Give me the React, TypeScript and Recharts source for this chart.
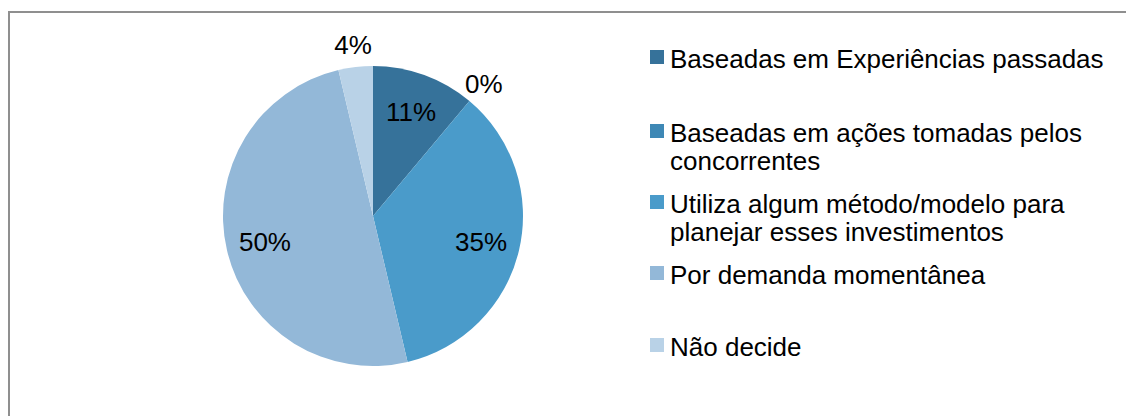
import React from "react";
import { PieChart, Pie, Cell, Legend } from "recharts";

const categories = [
  "Baseadas em Experiências passadas",
  "Baseadas em ações tomadas pelos concorrentes",
  "Utiliza algum método/modelo para planejar esses investimentos",
  "Por demanda momentânea",
  "Não decide",
];
const counts = [6, 0, 19, 27, 2];
const colors = ["#36729A", "#3E88B5", "#4A9BCA", "#93B8D8", "#B9D2E7"];

const data = categories.map((name, i) => ({ name, value: counts[i] }));

const FONT = '"Liberation Sans", Arial, sans-serif';
const RAD = Math.PI / 180;

// legend rows sit at uneven heights in the original
const legendTops = [45, 119, 190, 261, 333];

function renderLabel(props: any) {
  const { cx, cy, midAngle, outerRadius, percent } = props;
  const r = percent < 0.06 ? outerRadius * 1.15 : outerRadius * 0.74;
  const x = cx + r * Math.cos(-midAngle * RAD);
  const y = cy + r * Math.sin(-midAngle * RAD);
  return (
    <text
      x={x}
      y={y}
      fill="#000"
      fontSize={26}
      fontFamily={FONT}
      textAnchor="middle"
      dominantBaseline="central"
    >
      {`${Math.round(percent * 100)}%`}
    </text>
  );
}

function LegendContent() {
  return (
    <div style={{ position: "relative", width: 470, height: 416, fontFamily: FONT }}>
      {categories.map((name, i) => (
        <div
          key={name}
          style={{
            position: "absolute",
            top: legendTops[i],
            left: 0,
            display: "flex",
            alignItems: "flex-start",
          }}
        >
          <div
            style={{
              width: 14,
              height: 14,
              marginTop: 5,
              background: colors[i],
              flex: "none",
            }}
          />
          <div
            style={{
              marginLeft: 6,
              width: 450,
              fontSize: 26,
              lineHeight: "28px",
              color: "#000",
              textAlign: "left",
            }}
          >
            {name}
          </div>
        </div>
      ))}
    </div>
  );
}

export default function App() {
  return (
    <div
      style={{
        position: "absolute",
        left: 0,
        top: 0,
        width: 1126,
        height: 416,
        overflow: "hidden",
        background: "#fff",
      }}
    >
      <div
        style={{
          position: "absolute",
          left: 8,
          top: 11,
          width: 1200,
          height: 500,
          border: "2px solid #8f8f8f",
          boxSizing: "border-box",
        }}
      />
      <div style={{ position: "absolute", left: 0, top: 0 }}>
        <PieChart width={1126} height={416} margin={{ top: 0, right: 0, bottom: 0, left: 0 }}>
          <Pie
            data={data}
            dataKey="value"
            nameKey="name"
            cx={373}
            cy={216}
            outerRadius={150}
            startAngle={90}
            endAngle={-270}
            stroke="none"
            label={renderLabel}
            labelLine={false}
            isAnimationActive={false}
          >
            {data.map((d, i) => (
              <Cell key={d.name} fill={colors[i]} />
            ))}
          </Pie>
          <Legend
            layout="vertical"
            align="right"
            verticalAlign="top"
            content={<LegendContent />}
            wrapperStyle={{ left: 650, top: 0, width: 470, height: 416 }}
          />
        </PieChart>
      </div>
    </div>
  );
}
